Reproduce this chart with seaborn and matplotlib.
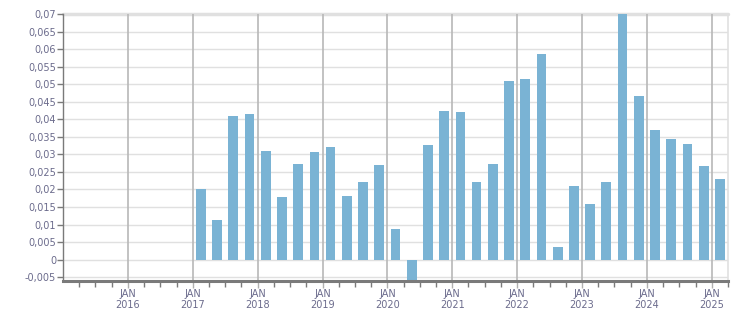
import matplotlib
matplotlib.use("Agg")
import matplotlib.pyplot as plt
import seaborn as sns
import pandas as pd
import numpy as np

years = [2017]*4 + [2018]*4 + [2019]*4 + [2020]*4 + [2021]*4 + [2022]*4 + [2023]*4 + [2024]*4 + [2025]
quarters = [1, 2, 3, 4]*8 + [1]
values = [0.0202, 0.0112, 0.0408, 0.0414,
          0.0310, 0.0179, 0.0273, 0.0307,
          0.0320, 0.0182, 0.0222, 0.0270,
          0.0087, -0.0065, 0.0327, 0.0423,
          0.0420, 0.0222, 0.0273, 0.0508,
          0.0516, 0.0585, 0.0037, 0.0210,
          0.0159, 0.0220, 0.0720, 0.0465,
          0.0368, 0.0345, 0.0330, 0.0268,
          0.0229]
ytick_vals = [-0.005, 0, 0.005, 0.01, 0.015, 0.02, 0.025, 0.03, 0.035, 0.04,
              0.045, 0.05, 0.055, 0.06, 0.065, 0.07]
xtick_years = list(range(2016, 2026))

df = pd.DataFrame({"year": years, "quarter": quarters, "value": values})
df["x"] = df["year"] + (df["quarter"] - 1) * 0.25 + 0.125

sns.set_style("white")
plt.rcParams['font.family'] = ['DejaVu Sans']

fig = plt.figure(figsize=(7.51, 3.13), dpi=100)
ax = fig.add_axes([63/751, 1 - 281/313, (728-63)/751, (281-14)/313])

text_color = "#6b6b8c"
bar_color = "#7ab3d4"

# grid
for v in ytick_vals:
    ax.axhline(v, color="#e0e0e0", lw=1.0, zorder=0)
ax.axhline(0.07, color="#e0e0e0", lw=2.5, zorder=0, clip_on=False)
for yv in xtick_years:
    ax.axvline(yv, color="#b8b8b8", lw=1.2, zorder=0.5)

sns.barplot(data=df, x="x", y="value", native_scale=True, color=bar_color,
            saturation=1, width=0.6, ax=ax, zorder=2, edgecolor="none")

ax.set_xlim(2015.0, 2025.25)
ax.set_ylim(-0.0061, 0.07)

ax.set_yticks(ytick_vals)
def fmt(v):
    if abs(v) < 1e-12:
        return "0"
    s = f"{v:.3f}".rstrip("0")
    return s.replace(".", ",")
ax.set_yticklabels([fmt(v) for v in ytick_vals])

ax.set_xticks(xtick_years)
ax.set_xticklabels([f"JAN\n{y}" for y in xtick_years], linespacing=1.05)
minor = [2015 + q * 0.25 for q in range(0, 42) if (q % 4) != 0]
ax.set_xticks(minor, minor=True)

ax.set_xlabel("")
ax.set_ylabel("")

ax.tick_params(axis="y", which="major", length=4, width=1, color="#7a7a7a",
               labelsize=7, labelcolor=text_color, pad=1, direction="out", left=True)
ax.tick_params(axis="x", which="major", length=5, width=1, color="#b0b0b0",
               labelsize=7, labelcolor=text_color, pad=1, direction="out", bottom=True)
ax.tick_params(axis="x", which="minor", length=4, width=1, color="#7a7a7a",
               direction="out", bottom=True)

ax.spines["top"].set_visible(False)
ax.spines["right"].set_color("#e0e0e0")
ax.spines["right"].set_linewidth(1.2)
ax.spines["left"].set_color("#7a7a7a")
ax.spines["left"].set_linewidth(1.0)
ax.spines["bottom"].set_color("#7a7a7a")
ax.spines["bottom"].set_linewidth(2.2)

fig.savefig("out.png", dpi=100)
